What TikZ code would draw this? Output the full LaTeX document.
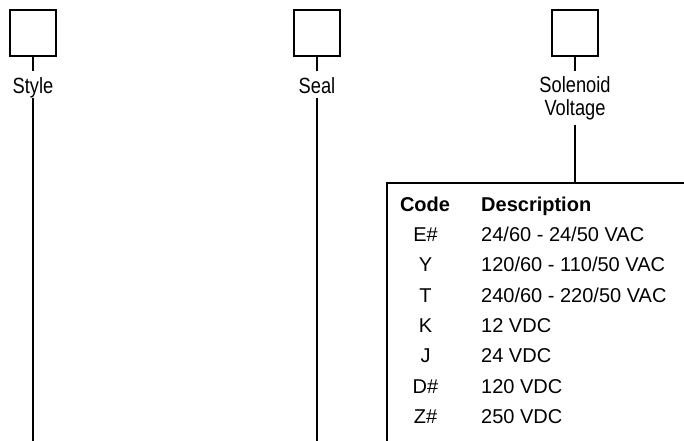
\documentclass[tikz,border=0pt]{standalone}
\usepackage{fontspec}
\setmainfont{Liberation Sans}
\newfontfamily\narrowfont[FakeStretch=0.83]{Liberation Sans}
\begin{document}
\begin{tikzpicture}[x=1pt,y=-1pt,
  box/.style={draw, line width=2pt, minimum size=46pt, inner sep=0pt, outer sep=1pt},
  lbl/.style={font=\narrowfont\fontsize{22}{23}\selectfont, inner sep=0pt, outer sep=0pt},
  conn/.style={line width=2pt},
  hd/.style={font=\bfseries\fontsize{20}{24}\selectfont, inner sep=0pt},
  cell/.style={font=\fontsize{20}{24}\selectfont, inner sep=0pt}]
\useasboundingbox (0,0) rectangle (684,440);
\clip (0,0) rectangle (684,440);
% boxes
\node[box] (b1) at (33,33) {};
\node[box] (b2) at (317,33) {};
\node[box] (b3) at (575,33) {};
% labels
\node[lbl, anchor=base, text height=22pt, text depth=5pt] (l1) at (33,93) {Style};
\node[lbl, anchor=base, text height=22pt, text depth=5pt] (l2) at (317,93) {Seal};
\node[lbl, align=center, anchor=north] (l3) at (575,70.5)
  {\rule{0pt}{22pt}Solenoid\\Voltage\rule[-9pt]{0pt}{9pt}};
% ends
\coordinate (e1) at (33,441);
\coordinate (e2) at (317,441);
% table
\node[draw, conn, outer sep=0pt, inner sep=0pt, minimum width=400pt, minimum height=400pt, anchor=north west] (tbl) at (387,183) {};
% connectors
\draw[conn] (b1.south) -- (l1.north);
\draw[conn] (l1.south) -- (e1);
\draw[conn] (b2.south) -- (l2.north);
\draw[conn] (l2.south) -- (e2);
\draw[conn] (b3.south) -- (l3.north);
\draw[conn] (l3.south) -- (l3.south |- tbl.north);
% table text
\node[hd, anchor=base] (hc) at (425,211.5) {Code};
\node[hd, anchor=base west] (hdsc) at (481,211.5) {Description};
\node[cell, anchor=base] (c1) at (425.5,241.5) {E\#};
\node[cell, anchor=base west] (d1) at (481,241.5) {24/60 - 24/50 VAC};
\node[cell, anchor=base] (c2) at (425.5,271.8) {Y};
\node[cell, anchor=base west] (d2) at (481,271.8) {120/60 - 110/50 VAC};
\node[cell, anchor=base] (c3) at (425.5,302.1) {T};
\node[cell, anchor=base west] (d3) at (481,302.1) {240/60 - 220/50 VAC};
\node[cell, anchor=base] (c4) at (425.5,332.4) {K};
\node[cell, anchor=base west] (d4) at (481,332.4) {12 VDC};
\node[cell, anchor=base] (c5) at (425.5,362.7) {J};
\node[cell, anchor=base west] (d5) at (481,362.7) {24 VDC};
\node[cell, anchor=base] (c6) at (425.5,393) {D\#};
\node[cell, anchor=base west] (d6) at (481,393) {120 VDC};
\node[cell, anchor=base] (c7) at (425.5,423.3) {Z\#};
\node[cell, anchor=base west] (d7) at (481,423.3) {250 VDC};
\end{tikzpicture}
\end{document}
